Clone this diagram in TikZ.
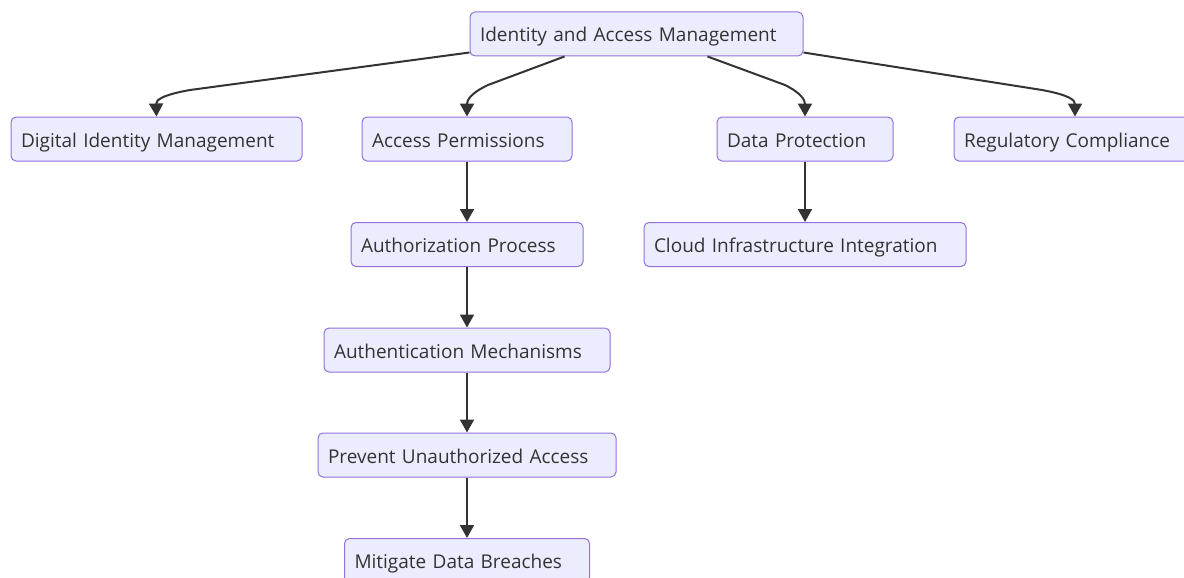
\documentclass[tikz,border=0pt]{standalone}
\usepackage{fontspec}
\setmainfont{Open Sans}
\usetikzlibrary{arrows.meta,calc}
\definecolor{boxfill}{HTML}{ECECFF}
\definecolor{boxline}{HTML}{9370DB}
\definecolor{ink}{HTML}{333333}
\tikzset{
  box/.style={draw=boxline, fill=boxfill, line width=1pt, rounded corners=5pt,
    minimum height=44pt, inner xsep=10pt, inner ysep=0pt, align=left,
    text height=20pt, text depth=4pt,
    font=\fontsize{19}{22}\selectfont, text=ink},
  link/.style={draw=ink, line width=2pt, -{Triangle[length=13pt,width=14pt]}},
}
\newcommand{\bx}[5]{\node[box, minimum width=#4pt, text width=#4pt-20pt] (#1) at (#2,#3) {#5};}
\begin{document}
\begin{tikzpicture}[x=1pt,y=-1pt]
\useasboundingbox (0,0) rectangle (1184,578);
\clip (0,0) rectangle (1184,578);
\bx{iam}{636.5}{34}{333}{Identity and Access Management}
\bx{dim}{156.5}{139}{291}{Digital Identity Management}
\bx{ap}{467}{139}{210}{Access Permissions}
\bx{dp}{805}{139}{176}{Data Protection}
\bx{rc}{1075}{139}{242}{Regulatory Compliance}
\bx{authp}{467}{244.5}{232}{Authorization Process}
\bx{cii}{805}{244.5}{322}{Cloud Infrastructure Integration}
\bx{authm}{467}{350}{286}{Authentication Mechanisms}
\bx{pua}{467}{455}{298}{Prevent Unauthorized Access}
\bx{mdb}{467}{560.5}{245}{Mitigate Data Breaches}
% fan-out from the root
\draw[link] ($(iam.south west)+(0,-4)$) -- (190,90) .. controls (162,95) and (156,100) .. (dim.north);
\draw[link] ($(iam.south west)+(95,0)$) -- (488,85) .. controls (471,93) and (467,100) .. (ap.north);
\draw[link] ($(iam.south west)+(238,0)$) -- (785,85) .. controls (801,93) and (805,100) .. (dp.north);
\draw[link] ($(iam.south east)+(0,-4)$) -- (1042,90) .. controls (1069,95) and (1075,100) .. (rc.north);
% vertical chains
\draw[link] (ap) -- (authp);
\draw[link] (authp) -- (authm);
\draw[link] (authm) -- (pua);
\draw[link] (pua) -- (mdb);
\draw[link] (dp) -- (cii);
\end{tikzpicture}
\end{document}
